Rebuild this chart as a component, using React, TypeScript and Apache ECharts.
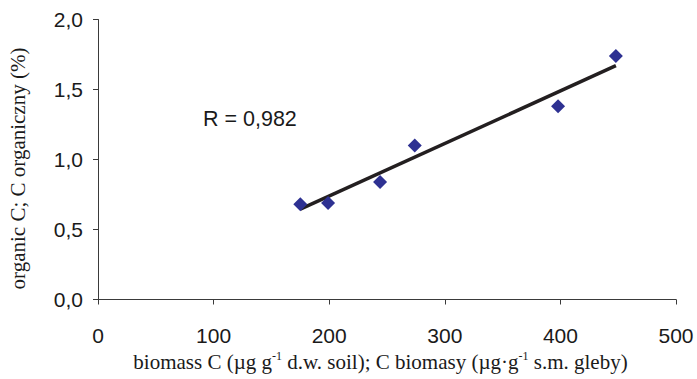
import React, { useEffect, useRef } from "react";
import * as echarts from "echarts";

const biomassC = [175, 199, 244, 274, 398, 448];
const organicC = [0.68, 0.69, 0.84, 1.1, 1.38, 1.74];
const trendX = [175, 448];
const trendY = [0.645, 1.67];
const rLabel = "R = 0,982";
const yTitle = "organic C; C organiczny (%)";

export default function App() {
  const ref = useRef<HTMLDivElement>(null);
  useEffect(() => {
    const chart = echarts.init(ref.current!, null, { renderer: "svg" });
    const axisColor = "#3a3a3a";
    const serif = "Liberation Serif, Times New Roman, serif";
    const sans = "Liberation Sans, Arial, sans-serif";
    chart.setOption({
      animation: false,
      backgroundColor: "#ffffff",
      grid: { left: 98, right: 21, top: 19.5, bottom: 79.5, containLabel: false, outerBoundsMode: "none" },
      xAxis: {
        type: "value",
        min: 0,
        max: 500,
        interval: 100,
        splitLine: { show: false },
        axisLine: { show: true, lineStyle: { color: axisColor, width: 1 } },
        axisTick: { show: true, inside: false, length: 5, lineStyle: { color: axisColor } },
        axisLabel: { color: "#1a1a1a", fontSize: 21, fontFamily: sans, margin: 25 },
        name: "{t|biomass C (µg g}{s|-1}{t| d.w. soil); C biomasy (µg·g}{s|-1}{t| s.m. gleby)}",
        nameLocation: "middle",
        nameGap: 48,
        nameTextStyle: {
          padding: [0, 13, 0, 0],
          rich: {
            t: { fontSize: 21, fontFamily: serif, color: "#1a1a1a", lineHeight: 24 },
            s: { fontSize: 12, fontFamily: serif, color: "#1a1a1a", lineHeight: 24, verticalAlign: "top" },
          },
        },
      },
      yAxis: {
        type: "value",
        min: 0,
        max: 2,
        interval: 0.5,
        splitLine: { show: false },
        axisLine: { show: true, lineStyle: { color: axisColor, width: 1 } },
        axisTick: { show: true, inside: false, length: 5, lineStyle: { color: axisColor } },
        axisLabel: {
          color: "#1a1a1a",
          fontSize: 21,
          fontFamily: sans,
          margin: 15,
          formatter: (v: number) => v.toFixed(1).replace(".", ","),
        },
        name: yTitle,
        nameLocation: "middle",
        nameGap: 70,
        nameRotate: 90,
        nameTextStyle: { fontSize: 21, fontFamily: serif, color: "#1a1a1a", padding: [0, 18, 0, 0] },
      },
      series: [
        {
          type: "line",
          data: trendX.map((x, i) => [x, trendY[i]]),
          showSymbol: false,
          symbol: "none",
          lineStyle: { color: "#231f20", width: 3.5 },
          z: 2,
        },
        {
          type: "scatter",
          data: biomassC.map((x, i) => [x, organicC[i]]),
          symbol: "diamond",
          symbolSize: 14,
          itemStyle: { color: "#2e3192", opacity: 1 },
          z: 3,
        },
      ],
      graphic: [
        {
          type: "text",
          left: 203,
          top: 108,
          style: { text: rLabel, fontSize: 21.5, fontFamily: sans, fill: "#1a1a1a" },
        },
      ],
    });
    return () => chart.dispose();
  }, []);
  return <div ref={ref} style={{ width: 697, height: 379, position: "absolute", left: 0, top: 0 }} />;
}
